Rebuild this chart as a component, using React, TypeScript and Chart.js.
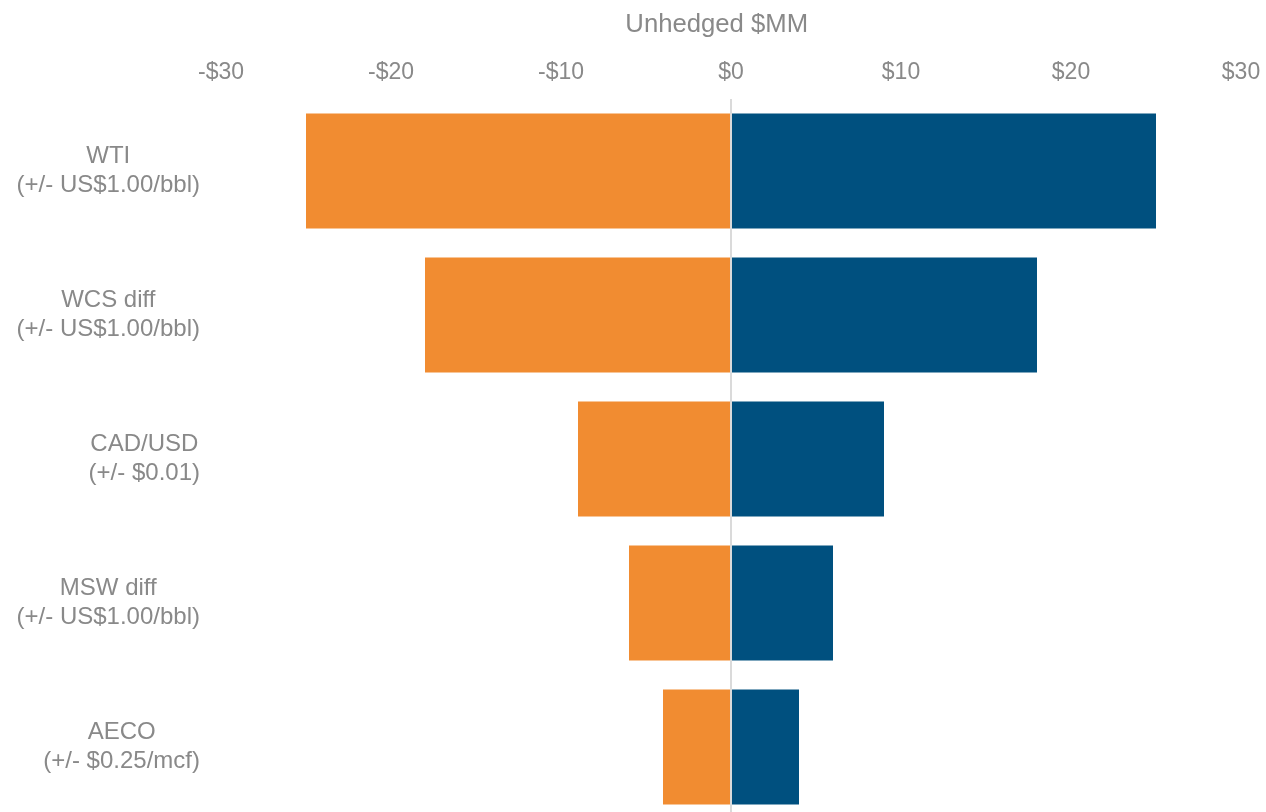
import React, { useEffect, useRef } from "react";
import { Chart, registerables } from "chart.js";

Chart.register(...registerables);

const categories: string[][] = [
  ["WTI", "(+/- US$1.00/bbl)"],
  ["WCS diff", "(+/- US$1.00/bbl)"],
  ["CAD/USD", "(+/- $0.01)"],
  ["MSW diff", "(+/- US$1.00/bbl)"],
  ["AECO", "(+/- $0.25/mcf)"],
];
const downside: number[] = [-25, -18, -9, -6, -4];
const upside: number[] = [25, 18, 9, 6, 4];
const xTicks: number[] = [-30, -20, -10, 0, 10, 20, 30];
const axisTitle = "Unhedged $MM";

const FONT = "'Liberation Sans', Arial, Helvetica, sans-serif";
const GRAY = "#898989";

const categoryLabelPlugin = {
  id: "categoryLabels",
  afterDraw(chart: any) {
    const yScale = chart.scales.y;
    const ctx = chart.ctx;
    ctx.save();
    ctx.font = `24px ${FONT}`;
    ctx.fillStyle = GRAY;
    ctx.textAlign = "center";
    ctx.textBaseline = "middle";
    const lineH = 29;
    const right = yScale.right - 21;
    categories.forEach((lines, i) => {
      const yc = yScale.getPixelForValue(i);
      const widest = Math.max(...lines.map((l) => ctx.measureText(l).width));
      const cx = right - widest / 2;
      lines.forEach((line, j) => {
        ctx.fillText(line, cx, yc + (j - (lines.length - 1) / 2) * lineH);
      });
    });
    ctx.restore();
  },
};

export default function App() {
  const canvasRef = useRef<HTMLCanvasElement | null>(null);

  useEffect(() => {
    document.body.style.margin = "0";
    const canvas = canvasRef.current;
    if (!canvas) return;
    const chart = new Chart(canvas, {
      type: "bar",
      data: {
        labels: categories.map((c) => c.join(" ")),
        datasets: [
          {
            label: "Downside",
            data: downside,
            backgroundColor: "#F18C31",
            borderWidth: 0,
            categoryPercentage: 0.8,
            barPercentage: 1,
          },
          {
            label: "Upside",
            data: upside,
            backgroundColor: "#00507F",
            borderWidth: 0,
            categoryPercentage: 0.8,
            barPercentage: 1,
          },
        ],
      },
      options: {
        indexAxis: "y",
        animation: false,
        responsive: true,
        maintainAspectRatio: false,
        layout: { padding: { top: 0, right: 25, bottom: 0, left: 0 } },
        plugins: {
          legend: { display: false },
          tooltip: { enabled: false },
        },
        scales: {
          x: {
            position: "top",
            stacked: true,
            min: xTicks[0],
            max: xTicks[xTicks.length - 1],
            z: 1,
            afterBuildTicks: (scale: any) => {
              scale.ticks = xTicks.map((v) => ({ value: v }));
            },
            afterFit: (scale: any) => {
              scale.height = 99;
              scale.paddingLeft = 0;
              scale.paddingRight = 0;
            },
            ticks: {
              padding: 13,
              color: GRAY,
              font: { family: FONT, size: 23 },
              callback: (v: any) => (Number(v) < 0 ? `-$${Math.abs(Number(v))}` : `$${v}`),
            },
            grid: {
              drawTicks: false,
              lineWidth: 2,
              color: (ctx: any) => (ctx.tick && ctx.tick.value === 0 ? "#DADADA" : "rgba(0,0,0,0)"),
            },
            border: { display: false },
            title: {
              display: true,
              text: axisTitle + "\u00a0\u00a0\u00a0\u00a0",
              color: GRAY,
              font: { family: FONT, size: 25.7 },
              padding: { top: 9, bottom: 0 },
            },
          },
          y: {
            stacked: true,
            afterFit: (scale: any) => {
              scale.width = 221;
            },
            ticks: { display: false },
            grid: { display: false },
            border: { display: false },
          },
        },
      },
      plugins: [categoryLabelPlugin],
    } as any);
    return () => chart.destroy();
  }, []);

  return (
    <div style={{ width: 1266, height: 812, overflow: "hidden", background: "#fff" }}>
      <div style={{ position: "relative", width: 1266, height: 819 }}>
        <canvas ref={canvasRef} />
      </div>
    </div>
  );
}
